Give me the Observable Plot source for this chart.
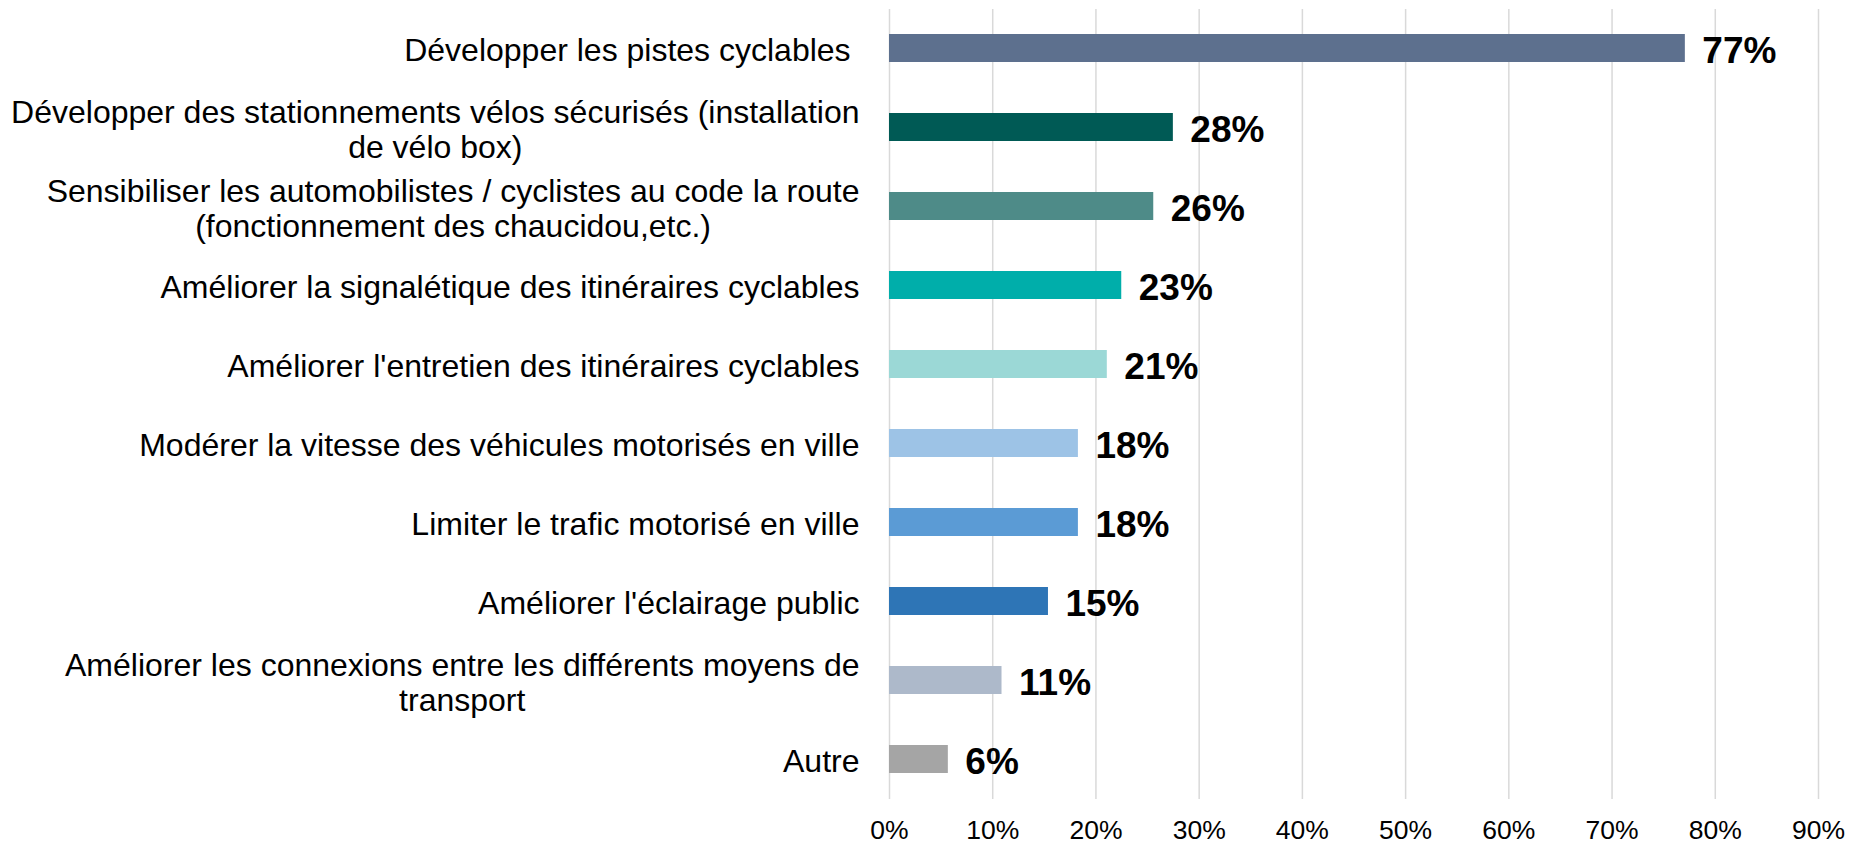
<!DOCTYPE html>
<html>
<head>
<meta charset="utf-8">
<script src="https://cdn.jsdelivr.net/npm/d3@7"></script>
<script src="https://cdn.jsdelivr.net/npm/@observablehq/plot@0.6"></script>
<style>
  html, body { margin: 0; padding: 0; background: #ffffff; }
  #chart { width: 1859px; height: 845px; }
</style>
</head>
<body>
<div id="chart"></div>
<script>
const categories = [
  "Développer les pistes cyclables\u00a0",
  "Développer des stationnements vélos sécurisés (installation\nde vélo box)",
  "Sensibiliser les automobilistes / cyclistes au code la route\n(fonctionnement des chaucidou,etc.)",
  "Améliorer la signalétique des itinéraires cyclables",
  "Améliorer l'entretien des itinéraires cyclables",
  "Modérer la vitesse des véhicules motorisés en ville",
  "Limiter le trafic motorisé en ville",
  "Améliorer l'éclairage public",
  "Améliorer les connexions entre les différents moyens de\ntransport",
  "Autre"
];
const values = [77.1, 27.5, 25.6, 22.5, 21.1, 18.3, 18.3, 15.4, 10.9, 5.7];
const colors = ["#5d708e", "#005a55", "#4e8b88", "#00aeaa", "#9bd8d6", "#9dc3e6", "#5b9bd5", "#2e75b6", "#adb9ca", "#a5a5a5"];
const tickValues = [0, 10, 20, 30, 40, 50, 60, 70, 80, 90];

const data = categories.map((c, i) => ({cat: c, value: values[i]}));

const FONT = "'Liberation Sans', Arial, sans-serif";
const catFontSize = 32;
const canvas = document.createElement("canvas");
const ctx = canvas.getContext("2d");
ctx.font = `${catFontSize}px ${FONT}`;
const blockWidth = c => d3.max(c.split("\n"), l => ctx.measureText(l).width);

const labelGap = 30;

const labelMarks = data.map(d =>
  Plot.text([d], {
    x: () => 0,
    y: "cat",
    text: "cat",
    textAnchor: "middle",
    lineAnchor: "middle",
    lineHeight: 1.07,
    fontSize: catFontSize,
    fill: "#000000",
    dx: -(labelGap + blockWidth(d.cat) / 2),
    dy: 2
  })
);

const chart = Plot.plot({
  width: 1859,
  height: 845,
  marginLeft: 889,
  marginRight: 41,
  marginTop: 9,
  marginBottom: 46,
  style: {fontFamily: FONT, fontSize: "26.5px", color: "#000000", background: "#ffffff"},
  x: {
    domain: [0, 90],
    ticks: tickValues,
    tickFormat: d => d + "%",
    tickSize: 0,
    tickPadding: 21,
    label: null
  },
  y: {
    domain: categories,
    paddingInner: 0.64,
    paddingOuter: 0.32,
    axis: null
  },
  color: {domain: categories, range: colors},
  marks: [
    Plot.ruleX(tickValues, {stroke: "#d9d9d9", strokeWidth: 1.5}),
    Plot.barX(data, {x: "value", y: "cat", fill: "cat"}),
    Plot.text(data, {
      x: "value",
      y: "cat",
      text: d => Math.round(d.value) + "%",
      textAnchor: "start",
      dx: 17,
      dy: 3,
      fontSize: 37,
      fontWeight: "bold",
      fill: "#000000"
    }),
    ...labelMarks
  ]
});
document.getElementById("chart").appendChild(chart);
</script>
</body>
</html>
